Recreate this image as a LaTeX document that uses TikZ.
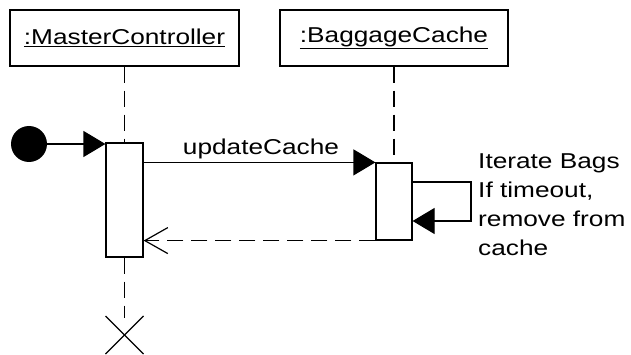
\documentclass[tikz,border=0pt]{standalone}
\usepackage{fontspec}
\setmainfont[FakeStretch=1.22]{Liberation Sans}
\usetikzlibrary{arrows.meta,calc}
\begin{document}
\begin{tikzpicture}[x=1pt,y=-1pt,
  obj/.style={draw,line width=1.2pt,minimum height=56pt,inner sep=0pt,font=\fontsize{21.5}{25}\selectfont},
  act/.style={draw,fill=white,line width=1.2pt,minimum width=37pt,inner sep=0pt},
  life/.style={line width=1.2pt,dash pattern=on 16pt off 8pt},
  msg/.style={line width=1.2pt,-{Triangle[length=22pt,width=26pt]}},
  ret/.style={line width=1.2pt,dash pattern=on 16pt off 8pt,-{Straight Barb[length=23pt,width=26pt,line width=1.2pt]}},
  lbl/.style={font=\fontsize{21.5}{29}\selectfont,inner sep=0pt}]
\useasboundingbox (0,0) rectangle (631,355);
\node[obj,minimum width=229pt] (mc) at (124.5,38) {\underline{:MasterController}};
\node[obj,minimum width=228pt] (bc) at (394,38) {\underline{:BaggageCache}};
\coordinate (xc) at (124.5,335);
\coordinate (xt) at (124.5,318);
\node[act,minimum height=114pt] (a1) at (124.5,200) {};
\node[act,minimum width=36pt,minimum height=77pt] (a2) at (394,201.5) {};
\draw[life] (mc.south) -- (a1.north);
\draw[life] (a1.south) -- (xt);
\draw[life] (bc.south) -- (a2.north);
\draw[line width=1.2pt] ($(xc)+(-19,-19)$) -- ($(xc)+(19,19)$);
\draw[line width=1.2pt] ($(xc)+(19,-19)$) -- ($(xc)+(-19,19)$);
\node[circle,fill=black,minimum size=36pt,inner sep=0pt] (dot) at (29,144) {};
\draw[msg] (dot.east) -- (a1.west |- dot.east);
\draw[msg] (a1.east |- a2.north) -- (a2.north west);
\node[lbl,anchor=base] (uc) at (261,155) {updateCache};
\draw[ret] (a2.south west) -- (a1.east |- a2.south west);
\coordinate (s1) at (471,182);
\coordinate (s2) at (471,221);
\draw[msg] (a2.east |- s1) -- (s1) -- (s2) -- (a2.east |- s2);
\node[lbl,anchor=north west,align=left] (note) at (478,154) {Iterate Bags\\If timeout,\\remove from\\cache};
\end{tikzpicture}
\end{document}
